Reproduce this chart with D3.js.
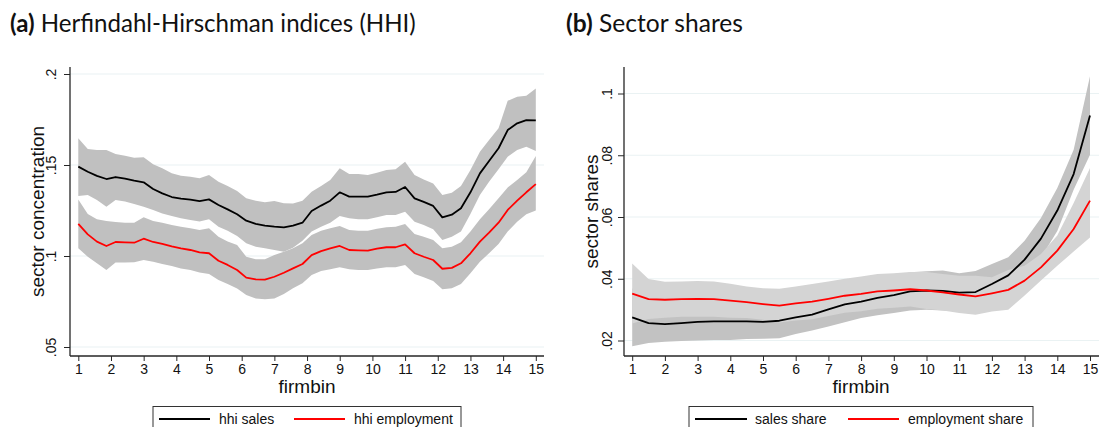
<!DOCTYPE html>
<html><head><meta charset="utf-8">
<script src="https://cdn.jsdelivr.net/npm/d3@7"></script>
<style>
html,body{margin:0;padding:0;background:#fff;}
svg{display:block;}
</style></head>
<body>
<svg id="chart" width="1099" height="427"></svg>
<script>
// ---------- Panel (a) data ----------
const firmbinA = [1,1.29,1.57,1.86,2.14,2.43,2.71,3,3.29,3.57,3.86,4.14,4.43,4.71,5,5.29,5.57,5.86,6.14,6.43,6.71,7,7.29,7.57,7.86,8.14,8.43,8.71,9,9.29,9.57,9.86,10.14,10.43,10.71,11,11.29,11.57,11.86,12.14,12.43,12.71,13,13.29,13.57,13.86,14.14,14.43,14.71,15];
const hhiSales = [0.1491,0.1463,0.1440,0.1423,0.1434,0.1425,0.1414,0.1405,0.1368,0.1344,0.1324,0.1315,0.1310,0.1302,0.1311,0.1280,0.1256,0.1229,0.1194,0.1176,0.1167,0.1161,0.1157,0.1167,0.1183,0.1247,0.1277,0.1304,0.1350,0.1326,0.1326,0.1326,0.1337,0.1350,0.1352,0.1379,0.1317,0.1297,0.1275,0.1212,0.1227,0.1262,0.1350,0.1454,0.1522,0.1592,0.1692,0.1729,0.1747,0.1745];
const hhiSalesHi = [0.1647,0.1588,0.1582,0.1582,0.1560,0.1551,0.1540,0.1542,0.1504,0.1482,0.1454,0.1441,0.1436,0.1427,0.1445,0.1408,0.1385,0.1357,0.1317,0.1304,0.1295,0.1302,0.1290,0.1289,0.1304,0.1353,0.1385,0.1418,0.1482,0.1451,0.1451,0.1445,0.1458,0.1473,0.1476,0.1518,0.1445,0.1421,0.1399,0.1335,0.1348,0.1385,0.1473,0.1573,0.1637,0.1702,0.1853,0.1875,0.1880,0.1920];
const hhiSalesLo = [0.1330,0.1335,0.1308,0.1271,0.1308,0.1299,0.1286,0.1271,0.1253,0.1234,0.1220,0.1207,0.1198,0.1189,0.1202,0.1161,0.1139,0.1110,0.1070,0.1051,0.1042,0.1033,0.1023,0.1045,0.1084,0.1134,0.1161,0.1183,0.1220,0.1207,0.1202,0.1202,0.1213,0.1225,0.1225,0.1243,0.1188,0.1170,0.1147,0.1088,0.1106,0.1134,0.1231,0.1335,0.1408,0.1476,0.1546,0.1582,0.1600,0.1577];
const hhiEmp = [0.1176,0.1119,0.1079,0.1055,0.1077,0.1075,0.1073,0.1095,0.1077,0.1066,0.1053,0.1042,0.1033,0.1020,0.1015,0.0974,0.0951,0.0923,0.0881,0.0872,0.0870,0.0886,0.0908,0.0932,0.0956,0.1005,0.1027,0.1042,0.1055,0.1033,0.1031,0.1029,0.1040,0.1048,0.1048,0.1064,0.1015,0.0996,0.0978,0.0930,0.0935,0.0960,0.1015,0.1079,0.1128,0.1183,0.1253,0.1304,0.1350,0.1395];
const hhiEmpHi = [0.1311,0.1231,0.1202,0.1192,0.1187,0.1183,0.1183,0.1213,0.1192,0.1183,0.1170,0.1161,0.1152,0.1143,0.1152,0.1106,0.1079,0.1060,0.0996,0.0982,0.0982,0.1005,0.1023,0.1042,0.1070,0.1115,0.1139,0.1152,0.1165,0.1143,0.1139,0.1139,0.1150,0.1158,0.1161,0.1176,0.1121,0.1106,0.1088,0.1042,0.1051,0.1075,0.1134,0.1202,0.1257,0.1317,0.1377,0.1418,0.1460,0.1550];
const hhiEmpLo = [0.1042,0.0996,0.0960,0.0923,0.0964,0.0964,0.0965,0.0978,0.0969,0.0956,0.0945,0.0932,0.0923,0.0910,0.0901,0.0868,0.0846,0.0822,0.0786,0.0767,0.0762,0.0767,0.0791,0.0823,0.0850,0.0896,0.0918,0.0927,0.0938,0.0927,0.0923,0.0923,0.0932,0.0938,0.0938,0.0951,0.0901,0.0883,0.0863,0.0817,0.0823,0.0846,0.0905,0.0969,0.1015,0.1066,0.1134,0.1188,0.1230,0.1250];

// ---------- Panel (b) data ----------
const firmbinB = [1,1.5,2,2.5,3,3.5,4,4.5,5,5.5,6,6.5,7,7.5,8,8.5,9,9.5,10,10.5,11,11.5,12,12.5,13,13.5,14,14.5,15];
const salesShare = [0.0275,0.0256,0.0253,0.0256,0.0260,0.0262,0.0262,0.0262,0.0260,0.0264,0.0275,0.0284,0.0301,0.0317,0.0326,0.0338,0.0347,0.0359,0.0362,0.0361,0.0355,0.0357,0.0383,0.0411,0.0462,0.0530,0.0621,0.0739,0.0929];
const salesShareHi = [0.0369,0.0320,0.0310,0.0314,0.0320,0.0322,0.0322,0.0319,0.0314,0.0321,0.0329,0.0336,0.0357,0.0375,0.0379,0.0394,0.0405,0.0421,0.0424,0.0427,0.0418,0.0425,0.0448,0.0470,0.0523,0.0597,0.0694,0.0818,0.1056];
const salesShareLo = [0.0181,0.0192,0.0196,0.0198,0.0200,0.0202,0.0202,0.0205,0.0206,0.0207,0.0221,0.0232,0.0245,0.0259,0.0273,0.0282,0.0289,0.0297,0.0300,0.0297,0.0294,0.0292,0.0318,0.0352,0.0403,0.0468,0.0555,0.0688,0.0802];
const empShare = [0.0352,0.0334,0.0332,0.0334,0.0335,0.0334,0.0329,0.0324,0.0318,0.0313,0.0320,0.0326,0.0335,0.0345,0.0351,0.0359,0.0362,0.0366,0.0362,0.0356,0.0349,0.0343,0.0353,0.0364,0.0394,0.0437,0.0491,0.0561,0.0653];
const empShareHi = [0.0449,0.0399,0.0390,0.0391,0.0393,0.0391,0.0384,0.0375,0.0369,0.0368,0.0375,0.0383,0.0391,0.0400,0.0407,0.0415,0.0418,0.0422,0.0422,0.0415,0.0410,0.0410,0.0405,0.0428,0.0442,0.0480,0.0540,0.0645,0.0759];
const empShareLo = [0.0255,0.0270,0.0274,0.0277,0.0277,0.0277,0.0274,0.0273,0.0267,0.0258,0.0265,0.0269,0.0279,0.0290,0.0295,0.0303,0.0306,0.0310,0.0302,0.0297,0.0289,0.0283,0.0294,0.0300,0.0346,0.0394,0.0442,0.0488,0.0534];

// ---------- Ticks and labels ----------
const xTicks = [1,2,3,4,5,6,7,8,9,10,11,12,13,14,15];
const yTicksA = [0.05,0.1,0.15,0.2];
const yTickLabelsA = [".05",".1",".15",".2"];
const yTicksB = [0.02,0.04,0.06,0.08,0.1];
const yTickLabelsB = [".02",".04",".06",".08",".1"];
const legendA = ["hhi sales","hhi employment"];
const legendB = ["sales share","employment share"];

const svg = d3.select("#chart");
const AX = "#262626";
const GRID = "#eaf2f3";
const SANS = "'Liberation Sans', Arial, sans-serif";

function panel(cfg){
  const g = svg.append("g");
  const x = d3.scaleLinear().domain([1,15]).range(cfg.xr);
  const y = d3.scaleLinear().domain(cfg.yd).range(cfg.yr);

  // gridlines
  g.append("g").selectAll("line").data(cfg.yTicks).join("line")
    .attr("x1", cfg.axX).attr("x2", cfg.axRight)
    .attr("y1", d=>y(d)).attr("y2", d=>y(d))
    .attr("stroke", GRID).attr("stroke-width", 1.2);

  // bands
  cfg.bands.forEach(b=>{
    const area = d3.area().x((d,i)=>x(cfg.xs[i])).y0((d,i)=>y(b.lo[i])).y1((d,i)=>y(b.hi[i]));
    g.append("path").datum(b.hi).attr("d", area).attr("fill", b.color).attr("stroke","none");
  });
  // lines
  cfg.lines.forEach(l=>{
    const line = d3.line().x((d,i)=>x(cfg.xs[i])).y(d=>y(d));
    g.append("path").datum(l.v).attr("d", line).attr("fill","none")
      .attr("stroke", l.color).attr("stroke-width", 1.8).attr("stroke-linejoin","round");
  });

  // y axis
  const ya = d3.axisLeft(y).tickValues(cfg.yTicks)
    .tickFormat((d,i)=>cfg.yLabels[i]).tickSize(6).tickSizeOuter(0);
  const yg = g.append("g").attr("transform",`translate(${cfg.axX},0)`).call(ya);
  yg.select(".domain").remove();
  yg.selectAll(".tick line").attr("stroke", AX).attr("stroke-width",1);
  yg.selectAll(".tick text")
    .attr("transform","rotate(-90)").attr("x",0).attr("y",-cfg.yLabOff).attr("dy",0)
    .attr("text-anchor","middle").attr("fill","#111")
    .style("font-family", SANS).style("font-size","14px");
  g.append("line").attr("x1",cfg.axX).attr("x2",cfg.axX)
    .attr("y1",cfg.axTop).attr("y2",cfg.axBottom).attr("stroke",AX).attr("stroke-width",1.3);

  // x axis
  const xa = d3.axisBottom(x).tickValues(xTicks).tickFormat(d3.format("d")).tickSize(5).tickSizeOuter(0);
  const xg = g.append("g").attr("transform",`translate(0,${cfg.axBottom})`).call(xa);
  xg.select(".domain").remove();
  xg.selectAll(".tick line").attr("stroke", AX).attr("stroke-width",1);
  xg.selectAll(".tick text").attr("y",18).attr("dy",0).attr("fill","#111")
    .style("font-family", SANS).style("font-size","14px");
  g.append("line").attr("x1",cfg.axX).attr("x2",cfg.axRight)
    .attr("y1",cfg.axBottom).attr("y2",cfg.axBottom).attr("stroke",AX).attr("stroke-width",1.3);

  // axis titles
  g.append("text").attr("x", (cfg.xr[0]+cfg.xr[1])/2).attr("y", 393)
    .attr("text-anchor","middle").style("font-family",SANS).style("font-size","19px")
    .attr("fill","#111").text("firmbin");
  g.append("text").attr("transform",`translate(${cfg.yTitleX},${(cfg.axTop+cfg.axBottom)/2}) rotate(-90)`)
    .attr("text-anchor","middle").style("font-family",SANS).style("font-size","19px")
    .attr("fill","#111").text(cfg.yTitle);

  // legend
  const lg = g.append("g");
  lg.append("rect").attr("x",cfg.leg.x0).attr("y",406.5).attr("width",cfg.leg.x1-cfg.leg.x0).attr("height",40)
    .attr("fill","#fff").attr("stroke","#333").attr("stroke-width",1);
  cfg.leg.items.forEach(it=>{
    lg.append("line").attr("x1",it.l0).attr("x2",it.l1).attr("y1",419).attr("y2",419)
      .attr("stroke",it.color).attr("stroke-width",1.8);
    lg.append("text").attr("x",it.tx).attr("y",424).style("font-family",SANS).style("font-size","14px")
      .attr("fill","#111").text(it.label);
  });

  // title
  const t = g.append("text").attr("x",cfg.title.x).attr("y",32)
    .style("font-family","Lato, 'Open Sans', sans-serif").style("font-size","22px").attr("fill","#111");
  t.append("tspan").style("font-weight","bold").text(cfg.title.a);
  t.append("tspan").text(" " + cfg.title.b);
  const w = t.node().getComputedTextLength();
  t.style("font-size", (22*cfg.title.w/w).toFixed(2)+"px");
}

panel({
  xs: firmbinA, xr:[78.3,535.8], yd:[0.05,0.2], yr:[347,74],
  axX:70, axRight:544, axTop:67, axBottom:356, yLabOff:14,
  yTicks:yTicksA, yLabels:yTickLabelsA, yTitle:"sector concentration", yTitleX:44,
  bands:[{hi:hhiSalesHi, lo:hhiSalesLo, color:"#c0c0c0"},{hi:hhiEmpHi, lo:hhiEmpLo, color:"#c0c0c0"}],
  lines:[{v:hhiSales,color:"#000"},{v:hhiEmp,color:"#ff0000"}],
  leg:{x0:153, x1:461, items:[
    {l0:159,l1:210,tx:219,color:"#000",label:legendA[0]},
    {l0:294,l1:345,tx:354,color:"#ff0000",label:legendA[1]}]},
  title:{x:10, a:"(a)", b:"Herfindahl-Hirschman indices (HHI)", w:406}
});

panel({
  xs: firmbinB, xr:[632.2,1090], yd:[0.02,0.1], yr:[340.5,93.5],
  axX:624, axRight:1099, axTop:67, axBottom:356, yLabOff:12,
  yTicks:yTicksB, yLabels:yTickLabelsB, yTitle:"sector shares", yTitleX:598,
  bands:[{hi:salesShareHi, lo:salesShareLo, color:"#c2c2c2"},{hi:empShareHi, lo:empShareLo, color:"#d4d4d4"}],
  lines:[{v:salesShare,color:"#000"},{v:empShare,color:"#ff0000"}],
  leg:{x0:689, x1:1033, items:[
    {l0:695,l1:747,tx:755,color:"#000",label:legendB[0]},
    {l0:848,l1:899,tx:908,color:"#ff0000",label:legendB[1]}]},
  title:{x:566, a:"(b)", b:"Sector shares", w:177}
});
</script>
</body></html>
